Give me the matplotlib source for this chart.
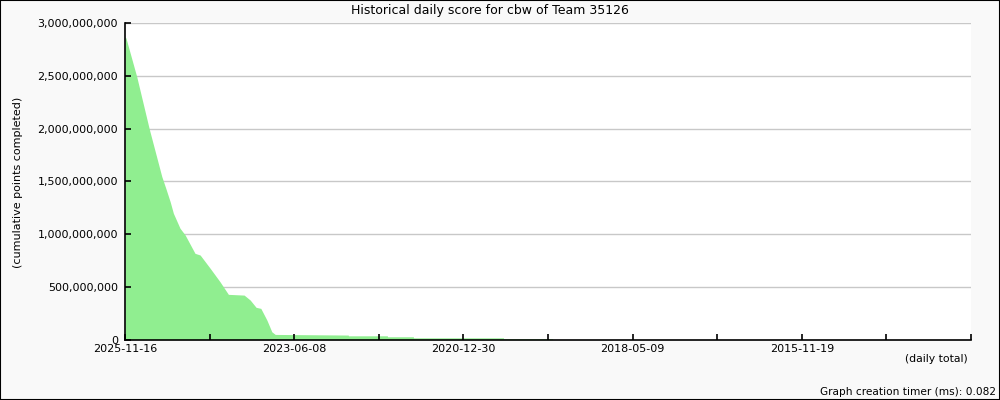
import matplotlib.pyplot as plt
from matplotlib.patches import Rectangle
from matplotlib.ticker import FuncFormatter

# days before 2025-11-16, and cumulative score (millions)
days_ago = [0, 5, 62, 128, 194, 215, 238, 255, 290, 317, 369, 396, 449, 501,
            545, 628, 660, 691, 716, 748, 774, 792, 1177, 1178, 1383, 1384,
            1520, 1521, 1995, 1996, 2254, 2255, 4460]
score_m = [2870, 2860, 2492, 1996, 1546, 1435, 1308, 1198, 1056, 992, 818, 802,
           676, 548, 429, 422, 375, 306, 296, 185, 74, 49, 43, 36, 36, 27,
           27, 17, 17, 8, 8, 0, 0]

tick_days = [0, 892, 1784, 2676, 3568]
tick_labels = ['2025-11-16', '2023-06-08', '2020-12-30', '2018-05-09', '2015-11-19']
minor_days = [446, 1338, 2230, 3122, 4014, 4460]
y_ticks = [0, 500e6, 1000e6, 1500e6, 2000e6, 2500e6, 3000e6]

fig = plt.figure(figsize=(10, 4), dpi=100, facecolor='#f9f9f9')
ax = fig.add_axes([0.125, 0.151, 0.846, 0.791])
ax.set_facecolor('white')

# grid drawn by hand so it sits under the fill while ticks stay on top
for yt in y_ticks[1:]:
    ax.axhline(yt, color='#c8c8c8', linewidth=1, zorder=0.2)

y = [v * 1e6 for v in score_m]
ax.fill_between(days_ago, y, 0, color='#90ee90', linewidth=0, zorder=0.5)

ax.set_xlim(0, 4460)
ax.set_ylim(0, 3e9)
ax.set_yticks(y_ticks)
ax.yaxis.set_major_formatter(FuncFormatter(lambda v, p: f'{int(v):,}'))
ax.set_xticks(tick_days)
ax.set_xticklabels(tick_labels)
ax.set_xticks(minor_days, minor=True)

for s in ['top', 'right']:
    ax.spines[s].set_visible(False)
for s in ['left', 'bottom']:
    ax.spines[s].set_color('black')
    ax.spines[s].set_linewidth(1.2)
ax.tick_params(axis='both', which='both', direction='in', length=4, width=1.2,
               labelsize=8, color='black')
ax.tick_params(axis='x', pad=3)
ax.tick_params(axis='y', pad=5)

fig.text(0.49, 0.974, 'Historical daily score for cbw of Team 35126',
         ha='center', va='center', fontsize=9)
fig.text(0.018, 0.545, '(cumulative points completed)', rotation=90,
         ha='center', va='center', fontsize=8)
fig.text(0.968, 0.103, '(daily total)', ha='right', va='center', fontsize=7.8)
fig.text(0.996, 0.02, 'Graph creation timer (ms): 0.082', ha='right',
         va='center', fontsize=7.6)

fig.patches.append(Rectangle((0, 0), 1, 1, transform=fig.transFigure,
                             fill=False, edgecolor='black', linewidth=1.5))

fig.savefig('out.png', dpi=100, facecolor=fig.get_facecolor())
